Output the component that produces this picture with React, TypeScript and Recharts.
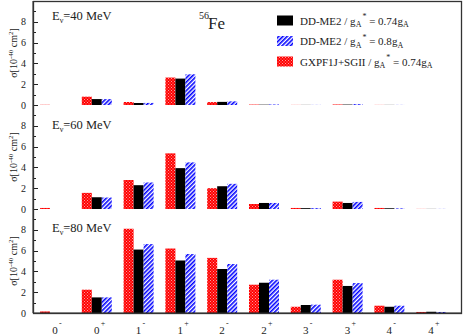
import React from "react";
import { BarChart, Bar, XAxis, YAxis } from "recharts";

const categories = ["0-", "0+", "1-", "1+", "2-", "2+", "3-", "3+", "4-", "4+"];
const energies = [40, 60, 80];
const yTicks = [0, 1, 2, 3, 4, 5, 6, 7, 8, 9, 10];

// DD-ME2, gA* = 0.74 gA (black)
const ddme074_40 = [0, 0.57, 0.19, 2.54, 0.3, 0.03, 0.01, 0.04, 0.01, 0];
const ddme074_60 = [0, 1.13, 2.29, 3.93, 2.19, 0.58, 0.08, 0.58, 0.07, 0.01];
const ddme074_80 = [0, 1.5, 6.1, 5.05, 4.23, 2.91, 0.77, 2.6, 0.6, 0.12];
// DD-ME2, gA* = 0.8 gA (blue hatch)
const ddme08_40 = [0, 0.57, 0.2, 2.95, 0.35, 0.05, 0.01, 0.08, 0.01, 0];
const ddme08_60 = [0, 1.1, 2.55, 4.48, 2.42, 0.58, 0.08, 0.68, 0.06, 0.01];
const ddme08_80 = [0, 1.5, 6.63, 5.67, 4.71, 3.2, 0.8, 2.88, 0.7, 0.1];
// GXPF1J+SGII, gA* = 0.74 gA (red dots)
const gxpf_40 = [0.02, 0.8, 0.29, 2.64, 0.28, 0.04, 0.01, 0.05, 0.01, 0];
const gxpf_60 = [0.1, 1.55, 2.8, 5.35, 2.0, 0.48, 0.1, 0.71, 0.1, 0.01];
const gxpf_80 = [0.15, 2.24, 8.1, 6.2, 5.3, 2.72, 0.6, 3.2, 0.7, 0.1];

const blackSets = [ddme074_40, ddme074_60, ddme074_80];
const blueSets = [ddme08_40, ddme08_60, ddme08_80];
const redSets = [gxpf_40, gxpf_60, gxpf_80];

const serif = "'Liberation Serif', 'Times New Roman', serif";
const lineColor = "#222";

function YTick(props: any) {
  const { x, y, payload } = props;
  const v = payload.value;
  const major = v % 2 === 0;
  const ax = x + 6;
  if (v === 10) return <g />;
  const yy = Math.round(y) + 0.5;
  return (
    <g>
      <line x1={ax} x2={ax + (major ? 5 : 3)} y1={yy} y2={yy} stroke={lineColor} strokeWidth={1} />
      {major && (
        <text x={x - 1} y={y} dy={3.5} textAnchor="end" fontSize={10} fontFamily={serif} fill="#222">
          {v}
        </text>
      )}
    </g>
  );
}

function XTick(props: any) {
  const { x, y, payload } = props;
  const s = payload.value as string;
  return (
    <g fontFamily={serif} fill="#222">
      <text x={x} y={y + 21} textAnchor="middle" fontSize={11}>{s[0]}</text>
      <text x={x + 4} y={y + 13} fontSize={8}>{s[1]}</text>
    </g>
  );
}

function Panel({ idx }: { idx: number }) {
  const last = idx === 2;
  const rows = categories.map((c, i) => ({
    cat: c,
    red: redSets[idx][i],
    black: blackSets[idx][i],
    blue: blueSets[idx][i],
  }));
  const xh = last ? 23 : 0;
  const mb = last ? 0 : 6;
  return (
    <div style={{ position: "absolute", left: 0, top: idx * 104 }}>
      <BarChart
        width={463}
        height={1 + 104 + xh + mb}
        data={rows}
        margin={{ top: 1, right: 2, bottom: mb, left: 0 }}
        barGap={0}
        barSize={10}
      >
        <defs>
          <pattern id={`dots${idx}`} width="3" height="3" patternUnits="userSpaceOnUse">
            <rect width="3" height="3" fill="#ff0000" />
            <rect x="0" y="0" width="1" height="1" fill="#ff9a9a" />
            <rect x="1.5" y="1.5" width="1" height="1" fill="#ff9a9a" />
          </pattern>
          <pattern id={`hatch${idx}`} width="3" height="3" patternUnits="userSpaceOnUse" patternTransform="rotate(45)">
            <rect width="3" height="3" fill="#ffffff" />
            <rect width="1.6" height="3" fill="#0000ff" />
          </pattern>
        </defs>
        <XAxis
          dataKey="cat"
          type="category"
          padding={{ left: 1, right: 9 }}
          height={xh}
          tickLine={false}
          tickSize={0}
          tickMargin={0}
          interval={0}
          tick={last ? <XTick /> : false}
          axisLine={{ stroke: lineColor }}
        />
        <YAxis
          domain={[0, 10]}
          ticks={yTicks}
          interval={0}
          width={33}
          tickSize={0}
          tickMargin={6}
          tickLine={false}
          tick={<YTick />}
          axisLine={{ stroke: lineColor }}
        />
        <Bar dataKey="red" fill={`url(#dots${idx})`} isAnimationActive={false} />
        <Bar dataKey="black" fill="#000000" isAnimationActive={false} />
        <Bar dataKey="blue" fill={`url(#hatch${idx})`} isAnimationActive={false} />
      </BarChart>
    </div>
  );
}

function LegendRow({ y, label, value, kind }: { y: number; label: string; value: string; kind: string }) {
  const fill = kind === "black" ? "#000" : kind === "blue" ? "url(#lhatch)" : "url(#ldots)";
  return (
    <g fontFamily={serif} fill="#222">
      <rect x={277} y={y - 5} width={16} height={10} fill={fill} />
      <text x={300} y={y + 4} fontSize={11}>
        {label} / g
        <tspan dy={2.5} fontSize={8}>A</tspan>
        <tspan dy={-8} dx={1} fontSize={8}>*</tspan>
        <tspan dy={5.5} fontSize={11}>{" = " + value}g</tspan>
        <tspan dy={2.5} fontSize={8}>A</tspan>
      </text>
    </g>
  );
}

export default function App() {
  const labelY = [20, 129, 232];
  const panelMid = [53, 157, 261];
  return (
    <div style={{ position: "absolute", left: 0, top: 0, width: 463, height: 336, background: "#fff" }}>
      {energies.map((e, i) => (
        <Panel key={e} idx={i} />
      ))}
      <svg width={463} height={336} style={{ position: "absolute", left: 0, top: 0, pointerEvents: "none" }}>
        <defs>
          <pattern id="ldots" width="3" height="3" patternUnits="userSpaceOnUse">
            <rect width="3" height="3" fill="#ff0000" />
            <rect x="0" y="0" width="1" height="1" fill="#ff9a9a" />
            <rect x="1.5" y="1.5" width="1" height="1" fill="#ff9a9a" />
          </pattern>
          <pattern id="lhatch" width="3" height="3" patternUnits="userSpaceOnUse" patternTransform="rotate(45)">
            <rect width="3" height="3" fill="#ffffff" />
            <rect width="1.6" height="3" fill="#0000ff" />
          </pattern>
        </defs>
        {/* outer frame */}
        <rect x={33.5} y={1.5} width={428} height={312} fill="none" stroke="#333" strokeWidth={1.3} />
        {energies.map((e, i) => (
          <g key={e} fontFamily={serif} fill="#222">
            <text x={52} y={labelY[i]} fontSize={12.5}>
              E<tspan dy={3} fontSize={8}>ν</tspan>
              <tspan dy={-3}>{"=" + e + " MeV"}</tspan>
            </text>
            <text transform={`translate(17, ${panelMid[i]}) rotate(-90)`} textAnchor="middle" fontSize={10}>
              σ[10<tspan dy={-4} fontSize={7}>-40</tspan>
              <tspan dy={4}> cm</tspan>
              <tspan dy={-4} fontSize={7}>2</tspan>
              <tspan dy={4}>]</tspan>
            </text>
          </g>
        ))}
        <g fontFamily={serif} fill="#222">
          <text x={199} y={19} fontSize={10}>56</text>
          <text x={208} y={29} fontSize={17}>Fe</text>
        </g>
        <LegendRow y={20.5} label="DD-ME2" value="0.74" kind="black" />
        <LegendRow y={41} label="DD-ME2" value="0.8" kind="blue" />
        <LegendRow y={61.5} label="GXPF1J+SGII" value="0.74" kind="red" />
      </svg>
    </div>
  );
}
